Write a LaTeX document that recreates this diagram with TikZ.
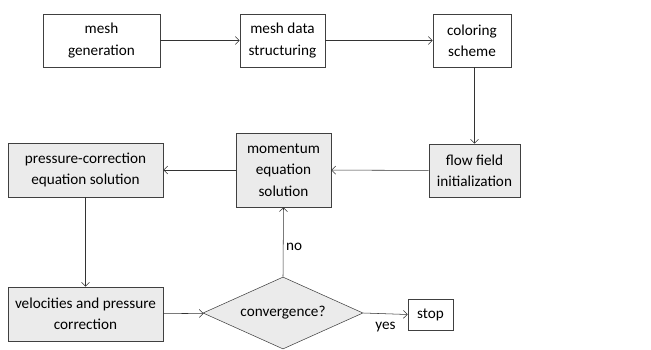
\documentclass[tikz,border=0pt]{standalone}
\usepackage{fontspec}
\setmainfont{Carlito}
\usetikzlibrary{shapes.geometric,arrows.meta}

\tikzset{
  stepbox/.style={draw=black!75, fill=white, align=center, inner sep=1pt,
    font=\fontsize{11.4}{16}\selectfont},
  solvebox/.style={stepbox, fill=black!8},
  testbox/.style={draw=black!75, fill=black!8, diamond, aspect=2.2, inner sep=0pt,
    font=\fontsize{11.4}{16}\selectfont},
  flow/.style={draw=black!80, -{Straight Barb[length=3pt,width=6pt]}},
  lbl/.style={font=\fontsize{11.4}{16}\selectfont, inner sep=2pt}
}

\begin{document}
\begin{tikzpicture}[x=0.75pt,y=-0.75pt]
  \useasboundingbox (0,0) rectangle (651,350);

  % first row: mesh preparation
  \node[stepbox, minimum width=87.75pt, minimum height=39.75pt] (gen) at (101.5,40.5) {mesh\\generation};
  \node[stepbox, minimum width=63.75pt, minimum height=39.75pt] (struct) at (282.5,40.5) {mesh data\\structuring};
  \node[stepbox, minimum width=58.5pt, minimum height=39.75pt] (color) at (472,40.5) {coloring\\scheme};

  % second row: solver
  \node[solvebox, minimum width=116.25pt, minimum height=40.5pt] (press) at (85.5,170) {pressure-correction\\equation solution};
  \node[solvebox, minimum width=71.25pt, minimum height=55.5pt] (mom) at (283.5,170) {momentum\\equation\\solution};
  \node[solvebox, minimum width=68.25pt, minimum height=39.75pt] (init) at (474.5,170.5) {flow field\\initialization};

  % third row: correction and test
  \node[solvebox, minimum width=116.25pt, minimum height=40.5pt] (vel) at (85.5,314) {velocities and pressure\\correction};
  \node[testbox, minimum width=120pt, minimum height=54pt] (conv) at (283,313) {convergence?};
  \node[stepbox, minimum width=33.75pt, minimum height=23.25pt] (stop) at (430.5,314.5) {stop};

  \draw[flow] (gen) -- (struct);
  \draw[flow] (struct) -- (color);
  \draw[flow] (color.south -| init.north) -- (init.north);
  \draw[flow] (init) -- (mom);
  \draw[flow] (mom) -- (press);
  \draw[flow] (press) -- (vel);
  \draw[flow] (vel) -- (conv);
  \draw[flow] (conv.north) -- node[lbl, right, pos=0.43] {no} (mom.south);
  \draw[flow] (conv.east) -- node[lbl, below, pos=0.5, yshift=-4pt] {yes} (stop.west);
\end{tikzpicture}
\end{document}
